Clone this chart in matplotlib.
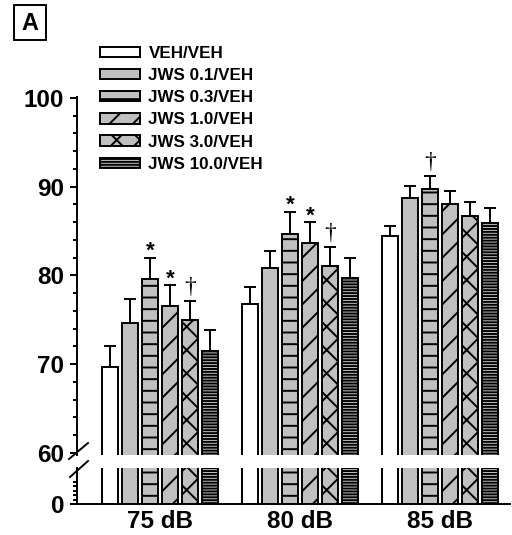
import numpy as np
import matplotlib
matplotlib.use('Agg')
import matplotlib.pyplot as plt
from matplotlib.patches import Rectangle
from matplotlib.lines import Line2D
from matplotlib.ticker import MultipleLocator, FixedLocator

plt.rcParams['font.family'] = ['Liberation Sans', 'DejaVu Sans']
plt.rcParams['font.weight'] = 'bold'
plt.rcParams['hatch.linewidth'] = 2.0

# --- data ---
groups = ['75 dB', '80 dB', '85 dB']
labels = ['VEH/VEH', 'JWS 0.1/VEH', 'JWS 0.3/VEH', 'JWS 1.0/VEH', 'JWS 3.0/VEH', 'JWS 10.0/VEH']

veh = [69.7, 76.8, 84.5]
veh_err = [2.4, 1.9, 1.1]
jws01 = [74.6, 80.8, 88.7]
jws01_err = [2.7, 2.0, 1.4]
jws03 = [79.6, 84.7, 89.7]
jws03_err = [2.4, 2.5, 1.5]
jws10 = [76.6, 83.7, 88.1]
jws10_err = [2.3, 2.3, 1.4]
jws30 = [75.0, 81.1, 86.7]
jws30_err = [2.1, 2.1, 1.6]
jws100 = [71.5, 79.7, 85.9]
jws100_err = [2.4, 2.3, 1.7]

# significance marks per treatment (one per group)
sig = [
    ['', '', ''],
    ['', '', ''],
    ['*', '*', '†'],
    ['*', '*', ''],
    ['†', '†', ''],
    ['', '', ''],
]

means = [veh, jws01, jws03, jws10, jws30, jws100]
errs = [veh_err, jws01_err, jws03_err, jws10_err, jws30_err, jws100_err]

# --- styles ---
gray = '#c0c0c0'
fills = ['white', gray, gray, gray, gray, gray]
hatches = ['', '', '-', '/', 'x', '----']

DPI = 70
fig = plt.figure(figsize=(512 / DPI, 535 / DPI), dpi=DPI)
L, W = 77 / 512, 433 / 512
ax = fig.add_axes([L, (535 - 455) / 535, W, 358 / 535])
axb = fig.add_axes([L, (535 - 504) / 535, W, 36 / 535])

x = np.arange(len(groups))
pitch = 1 / 7
width = 16 / 140

for i in range(len(labels)):
    xs = x + (i - 2.5) * pitch
    for a in (ax, axb):
        a.bar(xs, means[i], width, color=fills[i], edgecolor='black', linewidth=2,
              hatch=hatches[i], label=labels[i] if a is ax else None, zorder=2)
    ax.errorbar(xs, means[i], yerr=[np.zeros(3), errs[i]], fmt='none', ecolor='black',
                elinewidth=2, capsize=6, capthick=2, zorder=1)
    for j in range(len(groups)):
        m = sig[i][j]
        top = means[i][j] + errs[i][j]
        if m == '*':
            ax.annotate(m, (xs[j], top), xytext=(0, 1), textcoords='offset points',
                        ha='center', va='baseline', fontsize=23, fontweight='bold')
        elif m == '†':
            ax.annotate(m, (xs[j], top), xytext=(0, 8), textcoords='offset points',
                        ha='center', va='baseline', fontsize=24, fontweight='normal',
                        family=['Liberation Serif', 'DejaVu Serif'])

ax.set_ylim(59.77, 100.11)
axb.set_ylim(0, 8)
for a in (ax, axb):
    a.set_xlim(-0.593, 2.5)
    a.spines['top'].set_visible(False)
    a.spines['right'].set_visible(False)
    a.spines['left'].set_linewidth(2)
    a.patch.set_alpha(0)
ax.spines['bottom'].set_visible(False)
axb.spines['bottom'].set_linewidth(2)

ax.yaxis.set_major_locator(MultipleLocator(10))
ax.yaxis.set_minor_locator(MultipleLocator(2))
ax.set_xticks([])
ax.tick_params(axis='y', which='major', direction='out', length=7, width=2, labelsize=25, pad=6)
ax.tick_params(axis='y', which='minor', direction='out', length=4.5, width=2)

axb.set_yticks([0])
axb.yaxis.set_minor_locator(FixedLocator([1, 2, 3, 4, 5]))
axb.tick_params(axis='y', which='major', direction='out', length=7, width=2, labelsize=25, pad=6)
axb.tick_params(axis='y', which='minor', direction='out', length=4.5, width=2)
axb.set_xticks(x)
axb.set_xticklabels(groups)
axb.tick_params(axis='x', length=0, labelsize=25, pad=6)

ax.legend(loc='upper left', bbox_to_anchor=(100 / 512, 1 - 46 / 535), bbox_transform=fig.transFigure,
          frameon=False, fontsize=17.5, handlelength=2.35, handleheight=0.55, handletextpad=0.5,
          labelspacing=0.42, borderpad=0, borderaxespad=0)

# axis break marks
fig.add_artist(Line2D([69 / 512, 88 / 512], [1 - 459 / 535, 1 - 443 / 535],
                      transform=fig.transFigure, color='black', lw=2))
fig.add_artist(Line2D([70 / 512, 88 / 512], [1 - 477 / 535, 1 - 461 / 535],
                      transform=fig.transFigure, color='black', lw=2))

# panel label
fig.add_artist(Rectangle((14 / 512, 1 - 40 / 535), 32 / 512, 35 / 535, transform=fig.transFigure,
                         fill=False, lw=2, edgecolor='black'))
fig.text(30 / 512, 1 - 23 / 535, 'A', ha='center', va='center', fontsize=24, fontweight='bold')

fig.savefig('out.png', dpi=DPI)
